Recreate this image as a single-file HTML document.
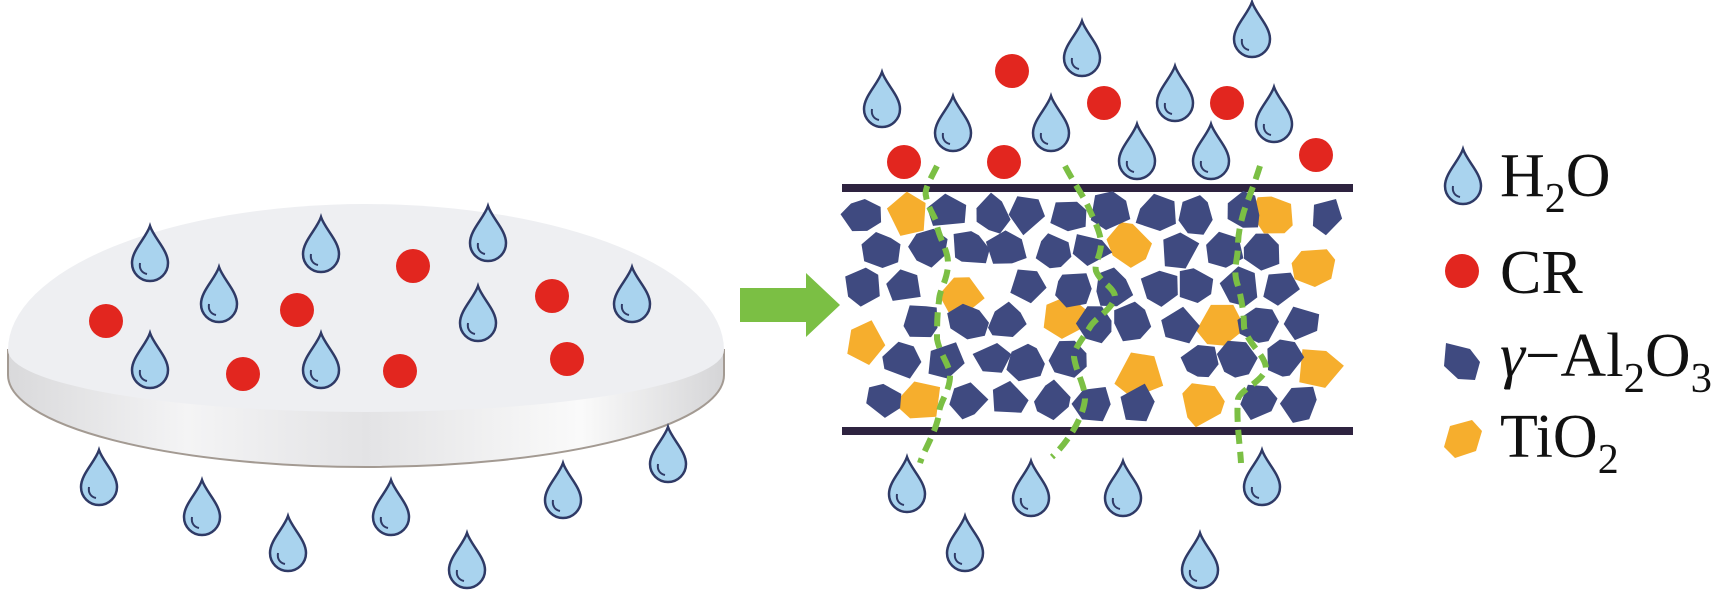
<!DOCTYPE html>
<html><head><meta charset="utf-8"><style>
html,body{margin:0;padding:0;background:#fff}
svg{display:block}
.t{font-family:"Liberation Serif","Times New Roman",serif;font-size:62px;fill:#111}
.s{font-size:42px}
</style></head><body>
<svg id="svg" width="1719" height="590" viewBox="0 0 1719 590" xmlns="http://www.w3.org/2000/svg">
<defs>
<g id="d">
<path d="M0,-28 C4,-16 18,-4 18,9 A18,18 0 0 1 -18,9 C-18,-4 -4,-16 0,-28 Z" fill="#a9d3ee" stroke="#2f3a66" stroke-width="2.5"/>
<path d="M-10,9 C-11,15 -8,19 -3,20" fill="none" stroke="#2f3a66" stroke-width="2"/>
</g>
<linearGradient id="side" x1="0" x2="1" y1="0" y2="0">
<stop offset="0" stop-color="#d9d9db"/><stop offset="0.25" stop-color="#f4f4f5"/><stop offset="0.5" stop-color="#e3e3e5"/><stop offset="0.8" stop-color="#fafafa"/><stop offset="1" stop-color="#d5d5d7"/>
</linearGradient>
</defs>
<path d="M8,350 L8,375 A358,92 0 0 0 724,375 L724,350 Z" fill="url(#side)" stroke="#a39a92" stroke-width="2"/>
<path d="M8,350 A358,146 0 0 1 724,350 A358,62 0 0 1 8,350 Z" fill="#eeeff2"/>
<polygon points="740,288 806,288 806,273 840,305 806,337 806,322 740,322" fill="#7bbf44"/>
<rect x="842" y="184" width="511" height="8" fill="#2e2340"/>
<rect x="842" y="427" width="511" height="8" fill="#2e2340"/>
<g id="parts"></g>
<g fill="none" stroke="#7bbf44" stroke-width="6" stroke-dasharray="14 8">
<path d="M937,166 C930,180 924,190 926,196 C928,210 937,218 937,226 C940,240 948,250 948,263 C948,280 939,290 939,301 C937,315 937,328 937,339 C940,355 950,365 950,376 C950,392 939,402 939,414 C936,432 924,450 920,463"/>
<path d="M1065,166 C1075,185 1085,198 1090,211 C1098,228 1101,236 1101,245 C1100,258 1094,263 1096,271 C1100,282 1115,288 1115,297 C1112,310 1095,318 1090,327 C1082,340 1074,348 1074,357 C1076,372 1085,385 1085,399 C1083,420 1065,445 1052,457"/>
<path d="M1260,166 C1254,185 1248,200 1244,211 C1240,225 1238,235 1238,245 C1238,260 1232,270 1238,286 C1242,300 1244,315 1244,327 C1248,345 1266,355 1266,369 C1262,382 1240,390 1238,399 C1236,420 1240,445 1241,463"/>
</g>
<use href="#d" x="150" y="254"/><use href="#d" x="321" y="245"/><use href="#d" x="488" y="234"/>
<use href="#d" x="219" y="295"/><use href="#d" x="478" y="314"/><use href="#d" x="632" y="295"/>
<use href="#d" x="150" y="361"/><use href="#d" x="321" y="361"/>
<use href="#d" x="99" y="478"/><use href="#d" x="202" y="508"/><use href="#d" x="288" y="544"/>
<use href="#d" x="391" y="508"/><use href="#d" x="467" y="561"/><use href="#d" x="563" y="491"/><use href="#d" x="668" y="455"/>
<g fill="#e2261f">
<circle cx="106" cy="321" r="17"/><circle cx="297" cy="310" r="17"/><circle cx="413" cy="266" r="17"/>
<circle cx="552" cy="296" r="17"/><circle cx="243" cy="374" r="17"/><circle cx="400" cy="371" r="17"/><circle cx="567" cy="359" r="17"/>
<circle cx="904" cy="162" r="17"/><circle cx="1012" cy="71" r="17"/><circle cx="1004" cy="162" r="17"/>
<circle cx="1104" cy="103" r="17"/><circle cx="1227" cy="103" r="17"/><circle cx="1316" cy="155" r="17"/>
<circle cx="1462" cy="271" r="17"/>
</g>
<use href="#d" x="882" y="100"/><use href="#d" x="953" y="124"/><use href="#d" x="1082" y="49"/>
<use href="#d" x="1051" y="124"/><use href="#d" x="1175" y="94"/><use href="#d" x="1137" y="152"/>
<use href="#d" x="1252" y="30"/><use href="#d" x="1274" y="115"/><use href="#d" x="1211" y="152"/>
<use href="#d" x="907" y="485"/><use href="#d" x="1031" y="489"/><use href="#d" x="1123" y="489"/>
<use href="#d" x="1262" y="478"/><use href="#d" x="965" y="544"/><use href="#d" x="1200" y="561"/>
<use href="#d" x="1463" y="177"/>
<polygon points="1446,343 1470,349 1480,362 1475,380 1458,379 1444,366" fill="#3f4a80"/>
<polygon points="1450,426 1472,420 1482,431 1476,451 1455,458 1444,447" fill="#f6ae2d"/>
<text class="t" x="1500" y="196">H<tspan class="s" dy="16">2</tspan><tspan dy="-16">O</tspan></text>
<text class="t" x="1500" y="293">CR</text>
<text class="t" x="1500" y="376" textLength="212" lengthAdjust="spacingAndGlyphs"><tspan font-style="italic">γ</tspan>−Al<tspan class="s" dy="16">2</tspan><tspan dy="-16">O</tspan><tspan class="s" dy="16">3</tspan></text>
<text class="t" x="1500" y="457">TiO<tspan class="s" dy="16">2</tspan></text>
</svg>
<script>
(function(){
var seed=7;function r(){seed=(seed*16807)%2147483647;return seed/2147483647;}
var NS="http://www.w3.org/2000/svg",g=document.getElementById("parts");
var or=[[909,214],[1128,245],[1274,216],[959,295],[1063,316],[1312,269],[1222,327],[865,344],[1139,376],[1318,367],[918,399],[1203,403]];
function poly(cx,cy,s,col){var n=5+Math.floor(r()*3),a0=r()*6.28,p=[];
for(var i=0;i<n;i++){var a=a0+i*6.283/n+(r()-0.5)*0.5,rr=s*(0.8+r()*0.35);p.push((cx+Math.cos(a)*rr*1.05).toFixed(1)+","+(cy+Math.sin(a)*rr).toFixed(1));}
var e=document.createElementNS(NS,"polygon");e.setAttribute("points",p.join(" "));e.setAttribute("fill",col);g.appendChild(e);}
or.forEach(function(o){poly(o[0],o[1],22,"#f6ae2d");});
var rows=[213,250,287,324,361,401];
rows.forEach(function(y,ri){for(var x=862+(ri%2)*21;x<1345;x+=42){
var cx=x+(r()-0.5)*8,cy=y+(r()-0.5)*6,ok=true;
or.forEach(function(o){if(Math.abs(o[0]-cx)<30&&Math.abs(o[1]-cy)<26)ok=false;});
if(ok)poly(cx,cy,19,"#3f4a80");}});
})();
</script>
</body></html>
